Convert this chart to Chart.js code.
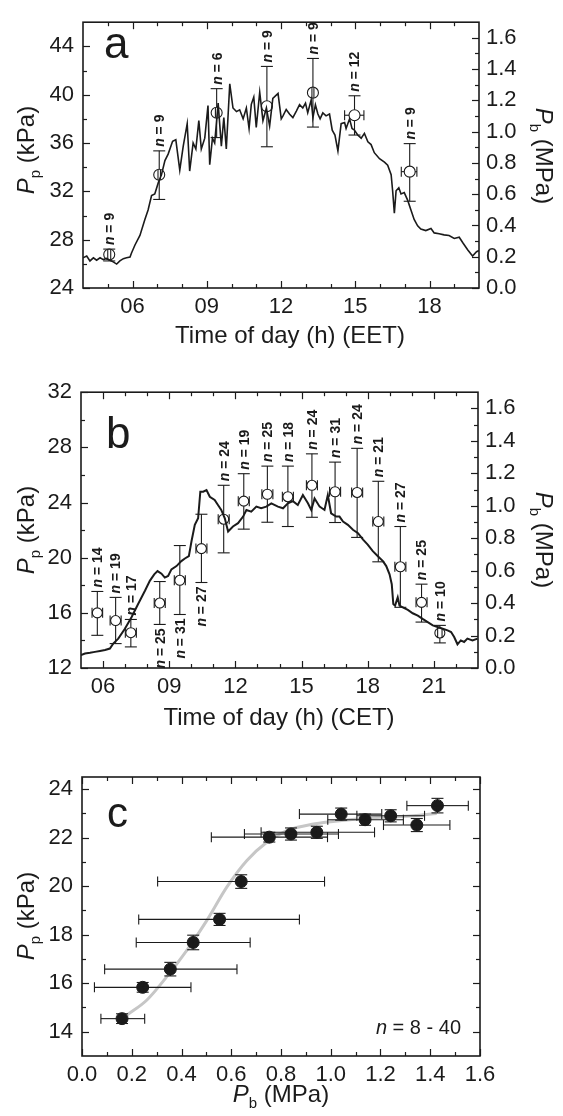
<!DOCTYPE html>
<html>
<head>
<meta charset="utf-8">
<script src="https://cdn.jsdelivr.net/npm/chart.js@4.4.1/dist/chart.umd.min.js"></script>
<style>
  html, body { margin: 0; padding: 0; background: #fff; }
  #wrap { position: relative; width: 563px; height: 1116px; }
  canvas { position: absolute; left: 0; }
</style>
</head>
<body>
<div id="wrap">
  <canvas id="chartA" width="563" height="350" style="top:0"></canvas>
  <canvas id="chartB" width="563" height="370" style="top:370px"></canvas>
  <canvas id="chartC" width="563" height="366" style="top:750px"></canvas>
</div>
<script>
// --- panel a: EET day trace + pressure means ---
const aTraceHour = [4.0,4.15,4.28,4.42,4.55,4.69,4.82,4.95,5.09,5.22,5.36,5.49,5.63,5.76,5.9,5.96,6.1,6.3,6.5,6.63,6.77,6.9,7.04,7.17,7.31,7.44,7.62,7.75,7.91,8.05,8.21,8.31,8.45,8.56,8.68,8.78,8.92,9.05,9.12,9.23,9.32,9.46,9.59,9.69,9.79,9.93,10.06,10.2,10.33,10.47,10.6,10.71,10.8,10.9,11.0,11.14,11.27,11.41,11.54,11.67,11.88,12.01,
  12.08,12.21,12.35,12.48,12.62,12.75,12.88,12.99,13.08,13.22,13.29,13.39,13.49,13.58,13.69,13.82,13.96,14.07,14.18,14.3,14.43,14.57,14.63,14.77,14.87,14.97,15.1,15.24,15.37,15.51,15.64,15.77,15.98,16.18,16.31,16.45,16.51,16.58,16.65,16.76,16.85,16.98,17.12,17.25,17.38,17.52,17.65,17.85,18.06,18.19,18.39,18.59,18.79,19.0,19.2,19.36,19.54,19.74,19.9,20.0];
const aTraceKPa = [26.5,26.64,26.24,26.5,26.3,26.5,26.35,26.45,26.3,26.16,25.98,26.24,26.43,26.5,26.56,26.9,27.56,28.35,29.67,30.46,31.65,31.78,32.7,33.37,34.55,35.08,36.14,36.27,33.76,35.74,37.6,33.68,36.0,35.5,37.85,35.5,36.4,39.1,34.2,36.4,36.0,39.3,35.74,38.1,35.5,40.9,38.9,38.6,38.75,38.0,38.9,37.2,39.2,39.8,37.3,40.2,37.85,38.9,37.4,39.7,40.1,38.0,
  38.25,38.78,38.38,38.1,38.64,39.17,38.9,39.3,38.5,39.57,38.1,39.17,38.4,38.0,38.5,38.25,38.4,37.06,36.66,35.35,37.6,37.7,37.2,38.0,37.2,37.06,36.66,36.4,36.8,36.1,35.87,35.2,34.7,34.42,34.16,33.37,32.05,30.2,32.05,32.3,31.78,31.9,31.25,30.46,29.67,29.15,28.88,28.75,28.93,28.56,28.49,28.4,28.35,28.1,28.2,27.7,27.17,26.64,27.0,27.1];
const aMeanHour = [5.06, 7.08, 9.4, 11.43, 13.29, 14.97, 17.2];
const aMeanKPa = [26.77, 33.37, 38.5, 39.04, 40.17, 38.3, 33.63];
const aKPaHi = [27.22, 35.35, 40.5, 42.34, 43.0, 39.91, 35.95];
const aKPaLo = [26.24, 31.33, 36.45, 35.69, 37.32, 36.66, 31.18];
const aHourLo = [5.0, 7.03, 9.35, 11.43, 13.25, 14.57, 16.86];
const aHourHi = [5.12, 7.13, 9.45, 11.43, 13.33, 15.35, 17.49];
const aN = [9, 9, 6, 9, 9, 12, 9];
const aHourTicks = [6, 9, 12, 15, 18];
const aHourMinor = [5, 7, 8, 10, 11, 13, 14, 16, 17, 19];
const aKPaTicks = [24, 28, 32, 36, 40, 44];
const aKPaMinor = [26, 30, 34, 38, 42];

// --- panel b: CET day trace + pressure means ---
const bTraceHour = [5.0,5.18,5.41,5.63,5.86,6.09,6.31,6.46,6.69,6.99,7.29,7.59,7.9,8.12,8.32,8.47,8.65,8.8,8.95,9.1,9.33,9.55,9.71,9.89,10.01,10.16,10.31,10.41,10.54,10.69,10.84,11.06,11.21,11.36,11.52,11.67,11.89,12.12,12.35,12.5,12.72,12.95,13.17,13.4,13.63,13.93,
  14.16,14.38,14.61,14.83,15.06,15.29,15.44,15.59,15.82,16.04,16.19,16.34,16.57,16.72,16.88,17.1,17.33,17.56,17.79,18.0,18.23,18.46,18.69,18.84,18.99,19.09,19.16,19.24,19.36,19.44,19.59,19.82,20.04,20.27,20.49,20.72,20.95,21.17,21.4,21.62,21.78,21.92,22.07,22.22,22.37,22.52,22.75,22.98];
const bTraceKPa = [12.93,13.05,13.1,13.17,13.24,13.3,13.41,13.77,14.13,14.85,15.68,16.64,17.6,18.32,18.79,19.03,18.84,18.56,18.67,19.15,19.39,19.75,19.94,20.11,21.19,22.38,22.86,24.78,24.78,24.9,24.42,24.18,23.82,23.46,22.86,21.9,22.26,22.5,22.98,23.46,23.34,23.7,23.58,23.7,23.94,23.7,
  23.58,23.94,24.1,23.82,24.54,23.94,23.46,24.3,23.7,23.46,24.54,23.22,22.98,22.98,22.62,22.38,22.02,21.78,21.31,20.95,20.47,20.11,19.75,19.39,18.79,18.08,16.64,16.52,17.12,16.52,16.4,16.21,15.97,15.8,15.56,15.33,15.09,14.97,14.85,14.73,14.61,14.25,13.72,14.0,13.89,14.13,14.0,14.13];
const bMeanHour = [5.74,6.57,7.26,8.57,9.48,10.46,11.47,12.38,13.45,14.38,15.47,16.52,17.52,18.48,19.48,20.44,21.27];
const bMeanKPa = [16.0,15.44,14.56,16.71,18.36,20.66,22.79,24.1,24.6,24.42,25.25,24.78,24.73,22.62,19.34,16.76,14.54];
const bKPaHi = [17.55,17.12,15.52,18.27,20.88,23.15,25.25,26.09,26.64,26.64,27.53,26.93,27.93,25.54,22.26,18.08,15.09];
const bKPaLo = [14.37,13.77,13.53,15.16,15.88,18.2,20.35,22.07,22.57,22.26,22.93,22.55,21.47,19.7,16.4,15.33,13.82];
const bHourLo = [5.5,6.32,7.01,8.32,9.23,10.21,11.22,12.13,13.2,14.13,15.22,16.27,17.27,18.23,19.23,20.19,21.17];
const bHourHi = [5.98,6.82,7.51,8.82,9.73,10.71,11.72,12.63,13.7,14.63,15.72,16.77,17.77,18.73,19.73,20.69,21.37];
const bN = [14,19,17,25,31,27,24,19,25,18,24,31,24,21,27,25,10];
const bBelow = [false,false,false,true,true,true,false,false,false,false,false,false,false,false,false,false,false];
const bHourTicks = [6, 9, 12, 15, 18, 21];
const bHourMinor = [7, 8, 10, 11, 13, 14, 16, 17, 19, 20, 22];
const bKPaTicks = [12, 16, 20, 24, 28, 32];
const bKPaMinor = [14, 18, 22, 26, 30];

// right axis (Pb) shared by a and b
const pbTicks = [0, 0.2, 0.4, 0.6, 0.8, 1.0, 1.2, 1.4, 1.6];
const pbMinor = [0.1, 0.3, 0.5, 0.7, 0.9, 1.1, 1.3, 1.5];

// --- panel c: Pp vs Pb ---
const cPb = [0.161,0.244,0.355,0.447,0.553,0.64,0.753,0.84,0.944,1.042,1.138,1.241,1.346,1.429];
const cPbLo = [0.076,0.05,0.091,0.218,0.228,0.304,0.52,0.653,0.72,0.874,0.988,1.105,1.212,1.306];
const cPbHi = [0.252,0.438,0.623,0.676,0.874,0.975,0.987,1.031,1.176,1.205,1.292,1.377,1.479,1.553];
const cPp = [14.54,15.83,16.58,17.68,18.63,20.19,22.02,22.15,22.22,22.97,22.74,22.9,22.52,23.32];
const cPpErr = [0.2,0.2,0.28,0.3,0.25,0.28,0.2,0.25,0.25,0.25,0.23,0.25,0.27,0.3];
const cFitPb = [0.181,0.261,0.341,0.422,0.502,0.582,0.663,0.743,0.824,0.931,1.065,1.198,1.332,1.426];
const cFitPp = [14.69,15.31,16.27,17.36,18.59,19.96,21.06,21.81,22.29,22.56,22.73,22.84,22.9,23.0];
const cPbTicks = [0, 0.2, 0.4, 0.6, 0.8, 1.0, 1.2, 1.4, 1.6];
const cPbMinor = [0.1, 0.3, 0.5, 0.7, 0.9, 1.1, 1.3, 1.5];
const cPpTicks = [14, 16, 18, 20, 22, 24];
const cPpMinor = [15, 17, 19, 21, 23];

const FONT = '"Liberation Sans", Arial, Helvetica, sans-serif';
const INK = '#1b1b1b';
const TICK_SIZE = 22;

const pts = (xs, ys) => xs.map((x, i) => ({ x: x, y: ys[i] }));

function axis(opts) {
  return {
    type: 'linear', position: opts.position, min: opts.min, max: opts.max,
    afterBuildTicks: s => { s.ticks = opts.ticks.map(v => ({ value: v })); },
    afterFit: s => { if (opts.width) s.width = opts.width; if (opts.height) s.height = opts.height; },
    grid: { display: false, drawTicks: false },
    border: { display: false },
    ticks: {
      font: { family: FONT, size: opts.size || TICK_SIZE }, color: INK,
      padding: opts.pad, maxRotation: 0, autoSkip: false, callback: opts.fmt
    }
  };
}

// frame box with inward ticks on every side
function frame(marks) {
  return {
    id: 'frame',
    afterDraw(chart) {
      const { ctx, chartArea: a, scales } = chart;
      ctx.save();
      ctx.strokeStyle = INK;
      ctx.lineWidth = 1.6;
      ctx.strokeRect(a.left, a.top, a.right - a.left, a.bottom - a.top);
      ctx.lineWidth = 1.2;
      const seg = (x1, y1, x2, y2) => { ctx.beginPath(); ctx.moveTo(x1, y1); ctx.lineTo(x2, y2); ctx.stroke(); };
      marks.forEach(m => {
        const s = scales[m.axis];
        m.values.forEach(v => {
          const p = Math.round(s.getPixelForValue(v)) + 0.5;
          m.sides.forEach(side => {
            if (side === 'bottom') seg(p, a.bottom, p, a.bottom - m.len);
            if (side === 'top') seg(p, a.top, p, a.top + m.len);
            if (side === 'left') seg(a.left, p, a.left + m.len, p);
            if (side === 'right') seg(a.right, p, a.right - m.len, p);
          });
        });
      });
      ctx.restore();
    }
  };
}

function drawN(ctx, x, yEdge, n, below) {
  ctx.save();
  ctx.translate(x, yEdge);
  ctx.rotate(-Math.PI / 2);
  ctx.fillStyle = INK;
  ctx.textBaseline = 'middle';
  ctx.textAlign = 'left';
  const fi = 'italic bold 14px ' + FONT, fb = 'bold 14px ' + FONT;
  const rest = ' = ' + n;
  ctx.font = fi; const w1 = ctx.measureText('n').width;
  ctx.font = fb; const w2 = ctx.measureText(rest).width;
  const start = below ? -(w1 + w2 + 3) : 3;
  ctx.font = fi; ctx.fillText('n', start, 1);
  ctx.font = fb; ctx.fillText(rest, start + w1, 1);
  ctx.restore();
}

// error bars (starting outside the marker) and the n labels
function errorBars(e) {
  return {
    id: 'errorBars',
    afterDatasetsDraw(chart) {
      const { ctx } = chart;
      const xs = chart.scales.x, ys = chart.scales.y;
      ctx.save();
      ctx.strokeStyle = INK;
      ctx.lineWidth = 1.1;
      const seg = (x1, y1, x2, y2) => { ctx.beginPath(); ctx.moveTo(x1, y1); ctx.lineTo(x2, y2); ctx.stroke(); };
      e.x.forEach((xv, i) => {
        const px = xs.getPixelForValue(xv), py = ys.getPixelForValue(e.y[i]);
        const top = ys.getPixelForValue(e.yHi[i]), bot = ys.getPixelForValue(e.yLo[i]);
        const lft = xs.getPixelForValue(e.xLo[i]), rgt = xs.getPixelForValue(e.xHi[i]);
        const g = e.gap;
        if (top < py - g) seg(px, py - g, px, top);
        if (bot > py + g) seg(px, py + g, px, bot);
        seg(px - e.cap, top, px + e.cap, top);
        seg(px - e.cap, bot, px + e.cap, bot);
        if (rgt - lft > 1) {
          if (lft < px - g) seg(px - g, py, lft, py);
          if (rgt > px + g) seg(px + g, py, rgt, py);
          seg(lft, py - e.xcap, lft, py + e.xcap);
          seg(rgt, py - e.xcap, rgt, py + e.xcap);
        }
        if (e.n) {
          const below = e.below && e.below[i];
          drawN(ctx, px, below ? bot + 1 : top - 1, e.n[i], below);
        }
      });
      ctx.restore();
    }
  };
}

function drawTitle(ctx, t) {
  ctx.save();
  ctx.translate(t.x, t.y);
  ctx.rotate(t.rot || 0);
  ctx.fillStyle = INK;
  ctx.textBaseline = 'alphabetic';
  ctx.textAlign = 'left';
  const fm = 'italic ' + t.size + 'px ' + FONT;
  const fs = Math.round(t.size * 0.64) + 'px ' + FONT;
  const fr = t.size + 'px ' + FONT;
  ctx.font = fm; const wm = ctx.measureText(t.main).width;
  ctx.font = fs; const ws = ctx.measureText(t.sub).width;
  ctx.font = fr; const wr = ctx.measureText(t.rest).width;
  let cx = -(wm + ws + wr) / 2;
  ctx.font = fm; ctx.fillText(t.main, cx, 0); cx += wm;
  ctx.font = fs; ctx.fillText(t.sub, cx, t.size * 0.26); cx += ws;
  ctx.font = fr; ctx.fillText(t.rest, cx, 0);
  ctx.restore();
}

function texts(items) {
  return {
    id: 'texts',
    afterDraw(chart) {
      const ctx = chart.ctx;
      items.forEach(t => {
        if (t.kind === 'title') { drawTitle(ctx, t); return; }
        ctx.save();
        ctx.fillStyle = INK;
        ctx.textBaseline = 'alphabetic';
        if (t.kind === 'nrange') {
          ctx.font = 'italic ' + t.size + 'px ' + FONT;
          const w1 = ctx.measureText('n').width;
          ctx.font = t.size + 'px ' + FONT;
          const w2 = ctx.measureText(t.text).width;
          ctx.font = 'italic ' + t.size + 'px ' + FONT;
          ctx.fillText('n', t.x - w1 - w2, t.y);
          ctx.font = t.size + 'px ' + FONT;
          ctx.fillText(t.text, t.x - w2, t.y);
        } else {
          ctx.font = t.size + 'px ' + FONT;
          ctx.textAlign = t.align || 'left';
          ctx.fillText(t.text, t.x, t.y);
        }
        ctx.restore();
      });
    }
  };
}

const hourFmt = v => String(v).padStart(2, '0');
const oneDec = v => v.toFixed(1);

function baseOptions(scales, padding) {
  return {
    responsive: false,
    animation: false,
    devicePixelRatio: 1,
    layout: { padding: padding },
    plugins: { legend: { display: false }, tooltip: { enabled: false } },
    scales: scales
  };
}

// panel a
new Chart(document.getElementById('chartA'), {
  type: 'scatter',
  data: {
    datasets: [
      { data: pts(aMeanHour, aMeanKPa), pointRadius: 5.5, pointBorderWidth: 1.1, pointBorderColor: INK,
        pointBackgroundColor: 'rgba(255,255,255,0)', showLine: false, order: 0 },
      { data: pts(aTraceHour, aTraceKPa), showLine: true, borderColor: INK, borderWidth: 1.6,
        pointRadius: 0, tension: 0, order: 1 }
    ]
  },
  options: baseOptions({
    x: axis({ position: 'bottom', min: 4, max: 20, ticks: aHourTicks, height: 62, pad: 6, fmt: hourFmt }),
    y: axis({ position: 'left', min: 24, max: 46, ticks: aKPaTicks, width: 83, pad: 9, fmt: v => v }),
    y1: axis({ position: 'right', min: 0, max: 1.7, ticks: pbTicks, width: 84, pad: 7, fmt: oneDec })
  }, { top: 10, left: 0, right: 0, bottom: 0 }),
  plugins: [
    frame([
      { axis: 'x', values: aHourTicks, sides: ['bottom', 'top'], len: 7 },
      { axis: 'x', values: aHourMinor, sides: ['bottom', 'top'], len: 4 },
      { axis: 'y', values: aKPaTicks, sides: ['left'], len: 7 },
      { axis: 'y', values: aKPaMinor, sides: ['left'], len: 4 },
      { axis: 'y1', values: pbTicks, sides: ['right'], len: 7 },
      { axis: 'y1', values: pbMinor, sides: ['right'], len: 4 }
    ]),
    errorBars({ x: aMeanHour, y: aMeanKPa, yLo: aKPaLo, yHi: aKPaHi, xLo: aHourLo, xHi: aHourHi,
      n: aN, gap: 5.5, cap: 6, xcap: 5 }),
    texts([
      { kind: 'text', text: 'a', x: 104, y: 58, size: 44 },
      { kind: 'title', main: 'P', sub: 'p', rest: ' (kPa)', x: 34, y: 150, rot: -Math.PI / 2, size: 24 },
      { kind: 'title', main: 'P', sub: 'b', rest: ' (MPa)', x: 536, y: 156, rot: Math.PI / 2, size: 24 },
      { kind: 'text', text: 'Time of day (h) (EET)', x: 290, y: 343, size: 24, align: 'center' }
    ])
  ]
});

// panel b
new Chart(document.getElementById('chartB'), {
  type: 'scatter',
  data: {
    datasets: [
      { data: pts(bMeanHour, bMeanKPa), pointRadius: 5, pointBorderWidth: 1.1, pointBorderColor: INK,
        pointBackgroundColor: 'rgba(255,255,255,0)', showLine: false, order: 0 },
      { data: pts(bTraceHour, bTraceKPa), showLine: true, borderColor: INK, borderWidth: 2,
        pointRadius: 0, tension: 0, order: 1 }
    ]
  },
  options: baseOptions({
    x: axis({ position: 'bottom', min: 5, max: 23, ticks: bHourTicks, height: 72, pad: 6, fmt: hourFmt }),
    y: axis({ position: 'left', min: 12, max: 32, ticks: bKPaTicks, width: 81, pad: 9, fmt: v => v }),
    y1: axis({ position: 'right', min: 0, max: 1.7, ticks: pbTicks, width: 85, pad: 7, fmt: oneDec })
  }, { top: 20, left: 0, right: 0, bottom: 0 }),
  plugins: [
    frame([
      { axis: 'x', values: bHourTicks, sides: ['bottom', 'top'], len: 7 },
      { axis: 'x', values: bHourMinor, sides: ['bottom', 'top'], len: 4 },
      { axis: 'y', values: bKPaTicks, sides: ['left'], len: 7 },
      { axis: 'y', values: bKPaMinor, sides: ['left'], len: 4 },
      { axis: 'y1', values: pbTicks, sides: ['right'], len: 7 },
      { axis: 'y1', values: pbMinor, sides: ['right'], len: 4 }
    ]),
    errorBars({ x: bMeanHour, y: bMeanKPa, yLo: bKPaLo, yHi: bKPaHi, xLo: bHourLo, xHi: bHourHi,
      n: bN, below: bBelow, gap: 5, cap: 6, xcap: 5 }),
    texts([
      { kind: 'text', text: 'b', x: 106, y: 78, size: 44 },
      { kind: 'title', main: 'P', sub: 'p', rest: ' (kPa)', x: 34, y: 160, rot: -Math.PI / 2, size: 24 },
      { kind: 'title', main: 'P', sub: 'b', rest: ' (MPa)', x: 536, y: 170, rot: Math.PI / 2, size: 24 },
      { kind: 'text', text: 'Time of day (h) (CET)', x: 279, y: 355, size: 24, align: 'center' }
    ])
  ]
});

// panel c
new Chart(document.getElementById('chartC'), {
  type: 'scatter',
  data: {
    datasets: [
      { data: pts(cPb, cPp), pointRadius: 6, pointBorderWidth: 1, pointBorderColor: INK,
        pointBackgroundColor: INK, showLine: false, order: 0 },
      { data: pts(cFitPb, cFitPp), showLine: true, borderColor: '#c6c6c6', borderWidth: 3,
        pointRadius: 0, cubicInterpolationMode: 'monotone', order: 1 }
    ]
  },
  options: baseOptions({
    x: axis({ position: 'bottom', min: 0, max: 1.6, ticks: cPbTicks, height: 60, pad: 6, fmt: oneDec }),
    y: axis({ position: 'left', min: 13, max: 24.5, ticks: cPpTicks, width: 82, pad: 9, fmt: v => v })
  }, { top: 27, left: 0, right: 83, bottom: 0 }),
  plugins: [
    frame([
      { axis: 'x', values: cPbTicks, sides: ['bottom', 'top'], len: 7 },
      { axis: 'x', values: cPbMinor, sides: ['bottom', 'top'], len: 4 },
      { axis: 'y', values: cPpTicks, sides: ['left', 'right'], len: 7 },
      { axis: 'y', values: cPpMinor, sides: ['left', 'right'], len: 4 }
    ]),
    errorBars({ x: cPb, y: cPp, yLo: cPp.map((v, i) => v - cPpErr[i]), yHi: cPp.map((v, i) => v + cPpErr[i]),
      xLo: cPbLo, xHi: cPbHi, gap: 0, cap: 6, xcap: 5 }),
    texts([
      { kind: 'text', text: 'c', x: 107, y: 77, size: 42 },
      { kind: 'title', main: 'P', sub: 'p', rest: ' (kPa)', x: 34, y: 166, rot: -Math.PI / 2, size: 24 },
      { kind: 'title', main: 'P', sub: 'b', rest: ' (MPa)', x: 281, y: 352, rot: 0, size: 24 },
      { kind: 'nrange', text: ' = 8 - 40', x: 461, y: 284, size: 20 }
    ])
  ]
});
</script>
</body>
</html>
